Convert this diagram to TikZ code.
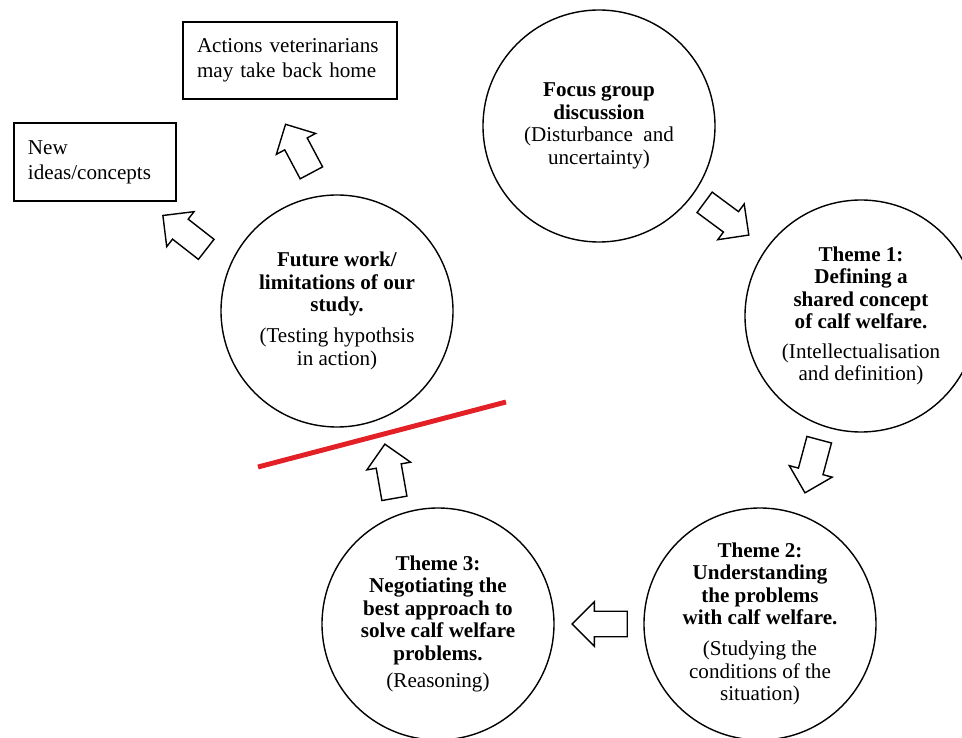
\documentclass[tikz,border=0pt]{standalone}
\usepackage{fontspec}
\setmainfont{Liberation Serif}
\usetikzlibrary{shapes.arrows,calc}
\definecolor{cutred}{RGB}{226,32,38}

\begin{document}
\begin{tikzpicture}[
  stage/.style={circle,draw,line width=0.8pt,minimum size=4.64cm,inner sep=0pt,align=center,font=\fontsize{12}{12.8}\selectfont},
  outbox/.style={rectangle,draw,line width=0.8pt,inner xsep=0.28cm,align=left,font=\fontsize{12}{14.2}\selectfont},
  flow/.style={single arrow,draw,line width=0.8pt,minimum height=1.1cm,inner xsep=0pt,inner ysep=0.24cm,single arrow head extend=0.19cm}
]
\useasboundingbox (0,0) rectangle (19.24,14.74);

% Cycle of stages
\node[stage] (focus) at (11.98,12.22) {\textbf{Focus group}\\\textbf{discussion}\\(Disturbance\ \ and\\uncertainty)};
\node[stage] (t1) at (17.22,8.42) {\textbf{Theme 1:}\\\textbf{Defining a}\\\textbf{shared concept}\\\textbf{of calf welfare.}\\[4pt](Intellectualisation\\and definition)};
\node[stage] (t2) at (15.2,2.26) {\textbf{Theme 2:}\\\textbf{Understanding}\\\textbf{the problems}\\\textbf{with calf welfare.}\\[5pt](Studying the\\conditions of the\\situation)};
\node[stage] (t3) at (8.76,2.26) {\textbf{Theme 3:}\\\textbf{Negotiating the}\\\textbf{best approach to}\\\textbf{solve calf welfare}\\\textbf{problems.}\\[3pt](Reasoning)};
\node[stage] (future) at (6.74,8.52) {\textbf{Future work/}\\\textbf{limitations of our}\\\textbf{study.}\\[5pt](Testing hypothsis\\in action)};

% Outcomes
\node[outbox,text width=3.72cm,minimum height=1.54cm] (actions) at (5.8,13.53) {Actions veterinarians\\may take back home};
\node[outbox,text width=2.68cm,minimum height=1.56cm] (newidea) at (1.9,11.5) {New\\ideas/concepts};

% Block arrows
\node[flow,rotate=-36.5] (a1) at ($(focus)!0.468!(t1)$) {};
\node[flow,rotate=-105] (a2) at ($(t1)!0.468!(t2)$) {};
\node[flow,rotate=180] (a3) at ($(t2)!0.478!(t3)$) {};
\node[flow,rotate=100] (a4) at ($(t3)!0.468!(future)$) {};
\node[flow,rotate=118] (a5) at ($(future)!0.65!(actions)+(-0.10,-0.12)$) {};
\node[flow,rotate=142] (a6) at ($(future)!0.632!(newidea)+(0.11,-0.39)$) {};

% Red cut line
\coordinate (cutL) at (5.16,5.4);
\coordinate (cutR) at (10.12,6.7);
\draw[cutred,line width=2.8pt] (cutL) -- (cutR);
\end{tikzpicture}
\end{document}
